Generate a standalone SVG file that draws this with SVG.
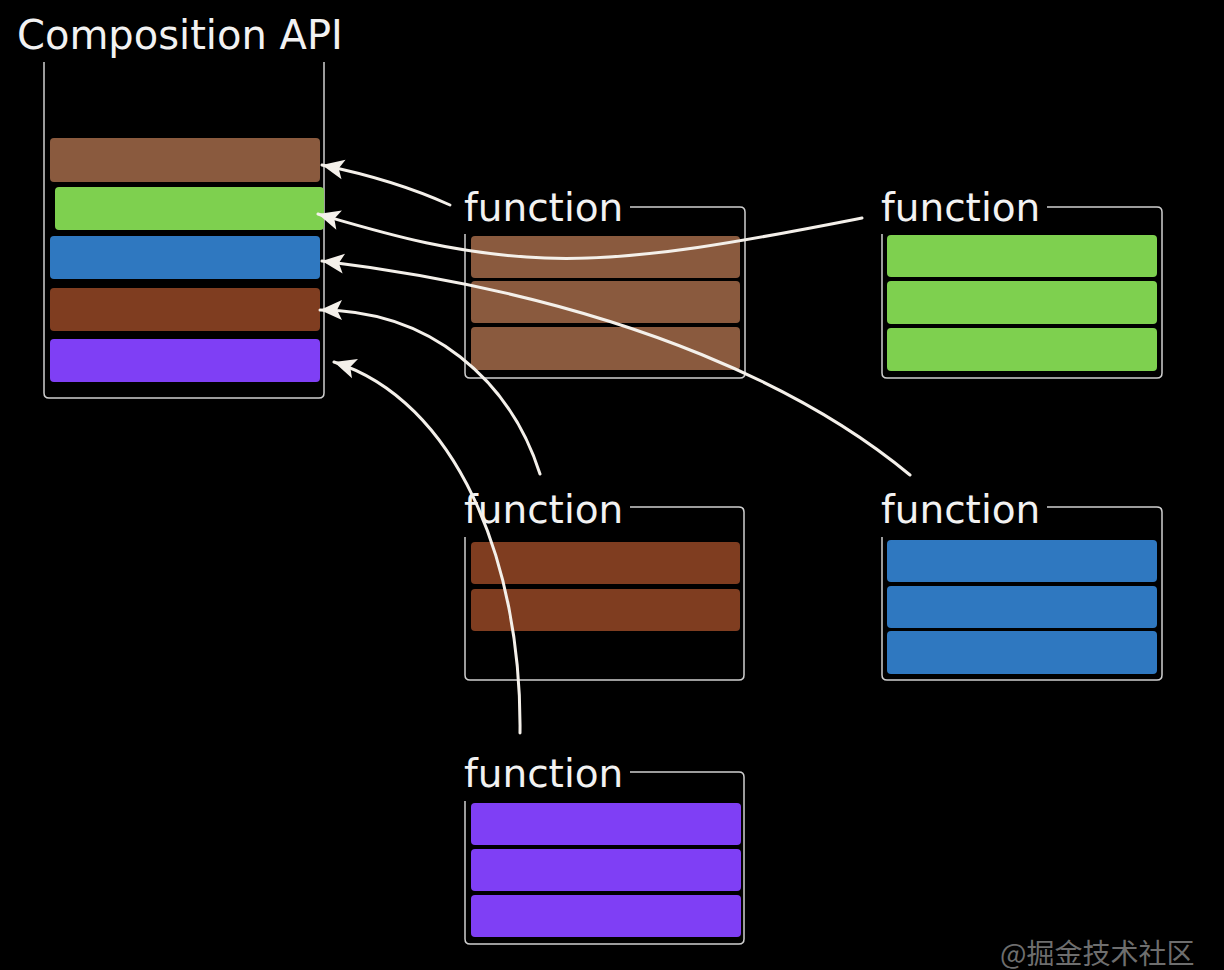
<svg xmlns="http://www.w3.org/2000/svg" width="1224" height="970" viewBox="0 0 1224 970">
<defs>
<style>
.lbl{font-family:"DejaVu Sans",Verdana,sans-serif;font-size:39px;fill:#f2f2f2}
.frame{fill:none;stroke:#cfcfcf;stroke-width:1.5}
.br{fill:#8a5a3e}.gr{fill:#7ed04f}.bl{fill:#2f78c0}.db{fill:#7f3d20}.pu{fill:#7f3ff5}
.arrow{fill:none;stroke:#f4f0ea;stroke-width:3;stroke-linecap:round;marker-end:url(#ah)}
</style>
<marker id="ah" markerUnits="userSpaceOnUse" markerWidth="28" markerHeight="28" viewBox="0 0 28 28" refX="26" refY="14" orient="auto">
<path d="M4,4 L26,14 L4,24 L9,14 Z" fill="#f4f0ea"/>
</marker>
</defs>
<rect width="1224" height="970" fill="#000"/>

<g id="composition-api">
<text class="lbl" x="17" y="49" style="font-size:40px">Composition API</text>
<path class="frame" d="M44,62 V393 Q44,398 49,398 H319 Q324,398 324,393 V62"/>
<rect class="br" x="50" y="138" width="270" height="44" rx="4"/>
<rect class="gr" x="55" y="187" width="269" height="43" rx="4"/>
<rect class="bl" x="50" y="236" width="270" height="43" rx="4"/>
<rect class="db" x="50" y="288" width="270" height="43" rx="4"/>
<rect class="pu" x="50" y="339" width="270" height="43" rx="4"/>
</g>

<g id="fn-brown">
<text class="lbl" x="464" y="221">function</text>
<path class="frame" d="M630,207 H740 Q745,207 745,212 V373 Q745,378 740,378 H470 Q465,378 465,373 V234"/>
<rect class="br" x="471" y="236" width="269" height="42" rx="4"/>
<rect class="br" x="471" y="281" width="269" height="42" rx="4"/>
<rect class="br" x="471" y="327" width="269" height="43" rx="4"/>
</g>

<g id="fn-green">
<text class="lbl" x="881" y="221">function</text>
<path class="frame" d="M1047,207 H1157 Q1162,207 1162,212 V373 Q1162,378 1157,378 H887 Q882,378 882,373 V234"/>
<rect class="gr" x="887" y="235" width="270" height="42" rx="4"/>
<rect class="gr" x="887" y="281" width="270" height="43" rx="4"/>
<rect class="gr" x="887" y="328" width="270" height="43" rx="4"/>
</g>

<g id="fn-darkbrown">
<text class="lbl" x="464" y="523">function</text>
<path class="frame" d="M630,507 H739 Q744,507 744,512 V675 Q744,680 739,680 H470 Q465,680 465,675 V537"/>
<rect class="db" x="471" y="542" width="269" height="42" rx="4"/>
<rect class="db" x="471" y="589" width="269" height="42" rx="4"/>
</g>

<g id="fn-blue">
<text class="lbl" x="881" y="523">function</text>
<path class="frame" d="M1047,507 H1157 Q1162,507 1162,512 V675 Q1162,680 1157,680 H887 Q882,680 882,675 V537"/>
<rect class="bl" x="887" y="540" width="270" height="42" rx="4"/>
<rect class="bl" x="887" y="586" width="270" height="42" rx="4"/>
<rect class="bl" x="887" y="631" width="270" height="43" rx="4"/>
</g>

<g id="fn-purple">
<text class="lbl" x="464" y="787">function</text>
<path class="frame" d="M630,772 H739 Q744,772 744,777 V939 Q744,944 739,944 H470 Q465,944 465,939 V801"/>
<rect class="pu" x="471" y="803" width="270" height="42" rx="4"/>
<rect class="pu" x="471" y="849" width="270" height="42" rx="4"/>
<rect class="pu" x="471" y="895" width="270" height="42" rx="4"/>
</g>

<g id="connectors">
<path class="arrow" d="M450,205 Q395,180 322,165"/>
<path class="arrow" d="M862,218 C760,238 640,262 545,258 C450,254 380,232 318,214"/>
<path class="arrow" d="M910,475 C820,400 640,300 322,261"/>
<path class="arrow" d="M540,474 C510,380 430,310 320,310"/>
<path class="arrow" d="M520,733 C522,560 455,400 334,362"/>
</g>

<text x="1000" y="964" style="font-family:'Noto Sans CJK SC',sans-serif;font-size:28px;fill:#6e6e6e">@掘金技术社区</text>
</svg>
